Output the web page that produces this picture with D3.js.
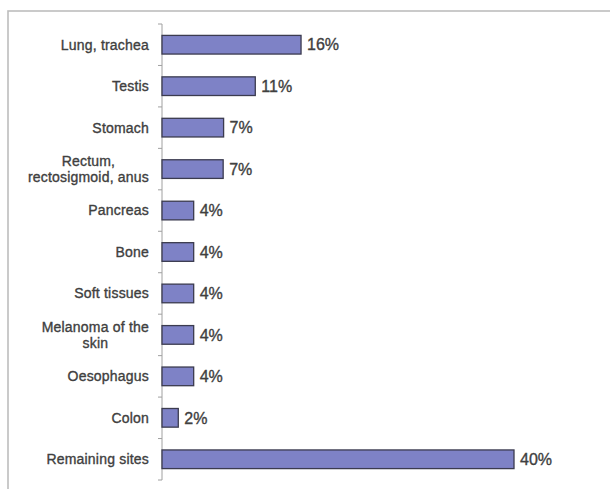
<!DOCTYPE html>
<html>
<head>
<meta charset="utf-8">
<script src="https://cdn.jsdelivr.net/npm/d3@7"></script>
<style>
  html, body { margin: 0; padding: 0; background: #fff; }
  svg { display: block; }
  text { font-family: "Liberation Sans", Arial, sans-serif; fill: #404040; stroke: #404040; stroke-width: 0.35px; }
</style>
</head>
<body>
<svg id="chart" width="610" height="489"></svg>
<script>
// ---- data ----
const categories = [
  "Lung, trachea",
  "Testis",
  "Stomach",
  "Rectum,\nrectosigmoid, anus",
  "Pancreas",
  "Bone",
  "Soft tissues",
  "Melanoma of the\nskin",
  "Oesophagus",
  "Colon",
  "Remaining sites"
];
const values = [15.8, 10.6, 7.0, 6.95, 3.6, 3.6, 3.6, 3.6, 3.6, 1.85, 40];
const valueLabels = ["16%", "11%", "7%", "7%", "4%", "4%", "4%", "4%", "4%", "2%", "40%"];

// ---- layout ----
const svg = d3.select("#chart");
const W = 610, H = 489;

// frame (extends beyond the visible area on the right and bottom)
svg.append("rect")
  .attr("x", 8).attr("y", 11)
  .attr("width", W + 20).attr("height", H + 20)
  .attr("fill", "#fff")
  .attr("stroke", "#bdbdbd")
  .attr("stroke-width", 1.6);

const x = d3.scaleLinear().domain([0, 40]).range([162, 514]);
const y = d3.scaleBand().domain(categories).range([24, 480])
  .paddingInner(0.55).paddingOuter(0.275);

const data = categories.map((c, i) => ({ c, v: values[i], label: valueLabels[i] }));

// axis line + ticks at band boundaries
const axisG = svg.append("g").attr("class", "axis");
axisG.append("line")
  .attr("x1", x(0)).attr("x2", x(0))
  .attr("y1", y.range()[0]).attr("y2", y.range()[1])
  .attr("stroke", "#a0a0a0").attr("stroke-width", 1);
const boundaries = categories.map(c => y(c) - y.step() * y.paddingInner() / 2)
  .concat([y.range()[1]]);
axisG.selectAll("line.tick").data(boundaries).join("line")
  .attr("class", "tick")
  .attr("x1", x(0) - 4).attr("x2", x(0))
  .attr("y1", d => d).attr("y2", d => d)
  .attr("stroke", "#a0a0a0").attr("stroke-width", 1);

// bars
svg.selectAll("rect.bar").data(data).join("rect")
  .attr("class", "bar")
  .attr("x", x(0))
  .attr("y", d => y(d.c))
  .attr("width", d => x(d.v) - x(0))
  .attr("height", y.bandwidth())
  .attr("fill", "#7e82c6")
  .attr("stroke", "#3b3b4f")
  .attr("stroke-width", 1.3);

// value labels
svg.selectAll("text.val").data(data).join("text")
  .attr("class", "val")
  .attr("x", d => x(d.v) + 6)
  .attr("y", d => y(d.c) + y.bandwidth() / 2)
  .attr("dy", "0.36em")
  .attr("font-size", "16px")
  .text(d => d.label);

// category labels (right-aligned blocks, lines centered within block)
const labelRight = 149;
const lineH = 16.5;
data.forEach(d => {
  const lines = d.c.split("\n");
  const cy = y(d.c) + y.bandwidth() / 2;
  const g = svg.append("g");
  const texts = lines.map((ln, i) => g.append("text")
    .attr("font-size", "14px")
    .attr("letter-spacing", "0.2px")
    .attr("y", cy + (i - (lines.length - 1) / 2) * lineH)
    .attr("dy", "0.35em")
    .text(ln));
  if (lines.length === 1) {
    texts[0].attr("x", labelRight).attr("text-anchor", "end");
  } else {
    const maxW = d3.max(texts, t => t.node().getComputedTextLength());
    texts.forEach(t => t.attr("x", labelRight - maxW / 2).attr("text-anchor", "middle"));
  }
});
</script>
</body>
</html>
